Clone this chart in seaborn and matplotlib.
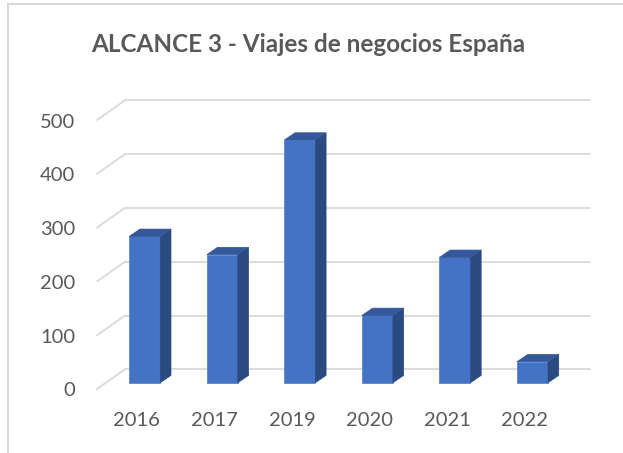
import matplotlib
matplotlib.use("Agg")
import matplotlib.pyplot as plt
from matplotlib.patches import Polygon
from matplotlib.lines import Line2D
import seaborn as sns
import pandas as pd

# chart data
years = ["2016", "2017", "2019", "2020", "2021", "2022"]
emisiones = [272, 238, 451, 125, 233, 39]
y_ticks = [0, 100, 200, 300, 400, 500]
title = "ALCANCE 3 - Viajes de negocios España"

front_color = "#4472C4"
top_color = "#34589A"
side_color = "#2B4A80"
grid_color = "#D9D9D9"
text_color = "#595959"

sns.set_style("white")
plt.rcParams["font.family"] = ["Lato", "DejaVu Sans"]

W, H = 623, 453
fig = plt.figure(figsize=(W / 100, H / 100), dpi=100)
ax = fig.add_axes([106 / W, 70.3 / H, 465.3 / W, 269 / H])

df = pd.DataFrame({"year": years, "value": emisiones})
sns.barplot(data=df, x="year", y="value", color=front_color, saturation=1,
            width=0.4, ax=ax, zorder=3, edgecolor="#5B86D0", linewidth=0.6)

ax.set_xlim(-0.5, 5.5)
ax.set_ylim(0, 500)
ax.axis("off")

# pixel -> data unit conversion
px_x = (465.3) / 6.0
px_y = 269 / 500.0

def off(dx_px, dy_px):
    return dx_px / px_x, dy_px / px_y

back_dx, back_dy = off(19, 13.4)
front_dx, front_dy = off(-9, -6.3)
depth_dx, depth_dy = off(10.7, 7.3)

# back wall grid + left wall diagonals
for v in y_ticks:
    ax.add_line(Line2D([-0.5 + back_dx, 5.5 + back_dx], [v + back_dy, v + back_dy],
                       color=grid_color, lw=1.3, zorder=1, clip_on=False))
    ax.add_line(Line2D([-0.5 + front_dx, -0.5 + back_dx], [v + front_dy, v + back_dy],
                       color=grid_color, lw=1.3, zorder=1, clip_on=False))
    ax.text(-0.5 + front_dx - 22 / px_x, v + front_dy - 2 / px_y, str(v),
            ha="right", va="center", fontsize=14.5, color=text_color, clip_on=False)

# 3d faces for each bar
for p in ax.patches[:len(years)]:
    x0 = p.get_x()
    w = p.get_width()
    h = p.get_height()
    x1 = x0 + w
    side = Polygon([(x1, 0), (x1 + depth_dx, depth_dy), (x1 + depth_dx, h + depth_dy), (x1, h)],
                   closed=True, facecolor=side_color, edgecolor=side_color, lw=0.5,
                   zorder=3, clip_on=False)
    top = Polygon([(x0, h), (x0 + depth_dx, h + depth_dy), (x1 + depth_dx, h + depth_dy), (x1, h)],
                  closed=True, facecolor=top_color, edgecolor=top_color, lw=0.5,
                  zorder=3, clip_on=False)
    ax.add_patch(side)
    ax.add_patch(top)
    p.set_clip_on(False)

for i, yr in enumerate(years):
    ax.text(i - 8 / px_x, -37.3 / px_y, yr, ha="center", va="center",
            fontsize=14.5, color=text_color, clip_on=False)

fig.text(308.5 / W, 1 - 45 / H, title, ha="center", va="center",
         fontsize=17.5, fontweight="bold", color=text_color)

# chart area border (left and top edges visible)
fig.add_artist(Line2D([8 / W, 8 / W], [0, 1 - 4 / H], transform=fig.transFigure,
                      color=grid_color, lw=1.5))
fig.add_artist(Line2D([8 / W, 1], [1 - 4 / H, 1 - 4 / H], transform=fig.transFigure,
                      color=grid_color, lw=1.5))

fig.savefig("out.png", dpi=100)
